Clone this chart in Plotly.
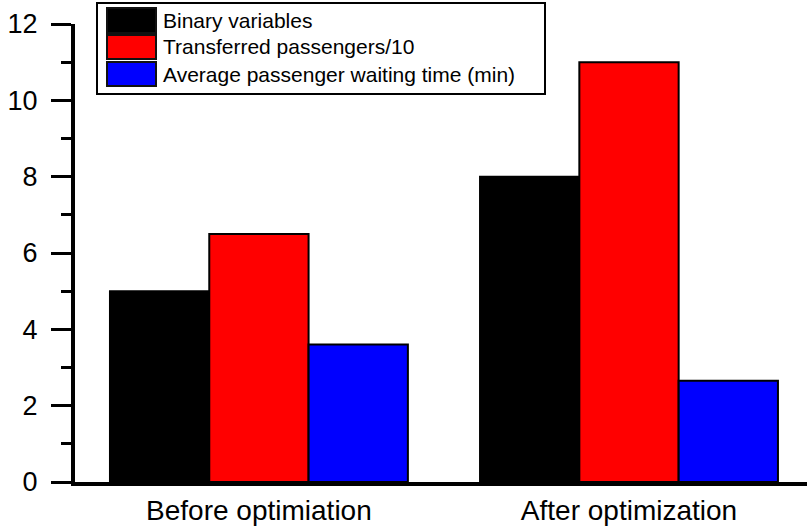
import plotly.graph_objects as go

categories = ["Before optimiation", "After optimization"]
series_names = ["Binary variables", "Transferred passengers/10", "Average passenger waiting time (min)"]
binary_vars = [5.0, 8.0]
transferred_div10 = [6.5, 11.0]
avg_wait_min = [3.6, 2.65]
series_colors = ["#000000", "#ff0000", "#0000ff"]
y_tick_vals = [0, 2, 4, 6, 8, 10, 12]
y_tick_text = ["0", "2", "4", "6", "8", "10", "12"]

FONT = "Liberation Sans, Arial, sans-serif"
W, H = 807, 529
L, R, T, B = 75, 0, 24, 47
PW, PH = W - L - R, H - T - B


def px_x(px):
    return (px - L) / PW


def px_y(py):
    return (H - B - py) / PH


fig = go.Figure()
for name, vals, col in zip(series_names, [binary_vars, transferred_div10, avg_wait_min], series_colors):
    fig.add_trace(go.Bar(
        x=categories, y=vals, name=name,
        marker=dict(color=col, line=dict(color="#000000", width=2)),
        showlegend=False,
    ))

# custom legend (large swatches like the original)
shapes = [dict(type="rect", xref="paper", yref="paper",
               x0=px_x(97), x1=px_x(545), y0=px_y(94), y1=px_y(3),
               line=dict(color="#000000", width=2), fillcolor="#ffffff", layer="above")]
annotations = []
rows = [(8, 33), (35, 59), (62, 86)]
for (y0, y1), name, col in zip(rows, series_names, series_colors):
    shapes.append(dict(type="rect", xref="paper", yref="paper",
                       x0=px_x(107), x1=px_x(156), y0=px_y(y1), y1=px_y(y0),
                       line=dict(color="#111111", width=2), fillcolor=col, layer="above"))
    annotations.append(dict(xref="paper", yref="paper", x=px_x(161), y=px_y((y0 + y1) / 2),
                            text=name, showarrow=False, xanchor="left", yanchor="middle",
                            font=dict(family=FONT, size=21, color="#000000")))

fig.update_layout(
    width=W, height=H,
    margin=dict(l=L, r=R, t=T, b=B, pad=0),
    paper_bgcolor="#ffffff", plot_bgcolor="#ffffff",
    barmode="group", bargap=0.195, bargroupgap=0,
    font=dict(family=FONT, color="#000000"),
    shapes=shapes, annotations=annotations,
    xaxis=dict(
        range=[-0.497, 1.481], showgrid=False, zeroline=False, automargin=False,
        showline=True, linecolor="#000000", linewidth=4,
        ticks="", ticklabelstandoff=0,
        tickfont=dict(family=FONT, size=28, color="#000000"),
    ),
    yaxis=dict(
        range=[0, 12], tickvals=y_tick_vals, ticktext=y_tick_text,
        showgrid=False, zeroline=False, automargin=False,
        showline=True, linecolor="#000000", linewidth=4,
        ticks="outside", ticklen=20, tickwidth=3, tickcolor="#000000",
        ticklabelstandoff=8,
        tickfont=dict(family=FONT, size=27, color="#000000"),
        minor=dict(dtick=1, ticks="outside", ticklen=10, tickwidth=3, tickcolor="#000000", showgrid=False),
    ),
)

fig.write_html("out.html", config={"displayModeBar": False},
               post_script="document.body.style.margin='0';document.body.style.padding='0';")
